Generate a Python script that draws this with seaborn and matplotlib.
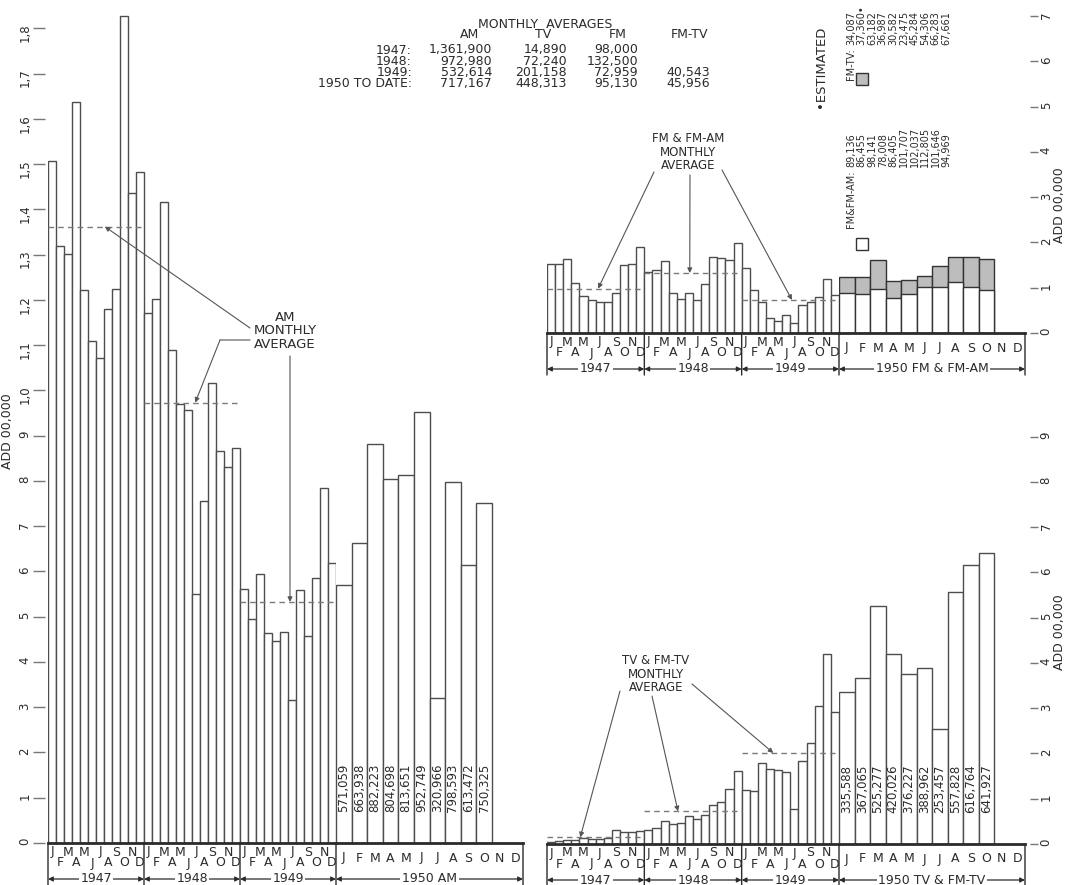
import numpy as np
import pandas as pd
import matplotlib
matplotlib.use("Agg")
import matplotlib.pyplot as plt
from matplotlib.patches import Rectangle
import seaborn as sns

# month letters as printed under the bars
months = ["J", "F", "M", "A", "M", "J", "J", "A", "S", "O", "N", "D"]
years = ["1947", "1948", "1949"]

# AM sets per month (1947-49, 1950 printed in the bars)
am_1947 = [1507000, 1318000, 1301000, 1638000, 1222000, 1110000,
           1072000, 1179000, 1223000, 1827000, 1437000, 1482000]
am_1948 = [1172000, 1203000, 1417000, 1089000, 969000, 957000,
           550000, 756000, 1017000, 866000, 830000, 873000]
am_1949 = [561000, 496000, 595000, 465000, 446000, 467000,
           316000, 559000, 458000, 585000, 785000, 618000]
am_1950 = [571059, 663938, 882223, 804698, 813651, 952749,
           320966, 798593, 613472, 750325]

# TV & FM-TV sets per month
tv_1947 = [5000, 6000, 8000, 9000, 14000, 11000,
           10000, 14000, 31000, 26000, 27000, 28000]
tv_1948 = [30000, 35000, 50000, 45000, 47000, 62000,
           55000, 63000, 87000, 93000, 122000, 161000]
tv_1949 = [119000, 117000, 180000, 165000, 163000, 159000,
           78000, 184000, 223000, 304000, 420000, 292000]
tv_1950 = [335588, 367065, 525277, 420026, 376227, 388962,
           253457, 557828, 616764, 641927]

# FM & FM-AM sets per month
fm_1947 = [152000, 153000, 163000, 111000, 82000, 74000,
           69000, 69000, 88000, 150000, 152000, 189000]
fm_1948 = [134000, 140000, 160000, 88000, 75000, 88000,
           73000, 108000, 167000, 166000, 162000, 199000]
fm_1949 = [144000, 95000, 69000, 34000, 26000, 40000,
           22000, 61000, 69000, 79000, 120000, 85000]
fm_am_1950 = [89136, 86455, 98141, 78008, 86405, 101707,
              102037, 112805, 101646, 94969]
fm_tv_1950 = [34087, 37360, 63182, 36987, 30582, 23475,
              45284, 54306, 66283, 67661]

# monthly averages table
avg_rows = ["1947:", "1948:", "1949:", "1950 TO DATE:"]
avg_am = [1361900, 972980, 532614, 717167]
avg_tv = [14890, 72240, 201158, 448313]
avg_fm = [98000, 132500, 72959, 95130]
avg_fmtv = [None, None, 40543, 45956]

UNIT = 100000
PPU = 45.26          # pixels per 100,000 sets
W, H = 1069, 885
EDGE = "#4d4d4d"
INK = "#2b2b2b"
DASH = "#7a7a7a"
GREY = "#bdbdbd"

sns.set_style("white")
plt.rcParams["font.family"] = ["DejaVu Sans"]
plt.rcParams["text.color"] = INK

fig = plt.figure(figsize=(W / 100, H / 100), dpi=100)


def fx(x):
    return x / W


def fy(y):
    return 1 - y / H


def put(ax, x, y_img, s, **kw):
    # x in data units, y in picture pixels
    ax.annotate(s, xy=(x, H - y_img), xycoords=("data", "figure pixels"),
                ha="center", va="center", annotation_clip=False, **kw)


def vline(ax, x, base, depth=42):
    ax.annotate("", xy=(x, H - base), xytext=(x, H - base - depth),
                xycoords=("data", "figure pixels"), textcoords=("data", "figure pixels"),
                arrowprops=dict(arrowstyle="-", color=INK, lw=1, shrinkA=0, shrinkB=0),
                annotation_clip=False)


def year_span(ax, x0, x1, y_img, text):
    ax.annotate("", xy=(x0, H - y_img), xytext=(x1, H - y_img),
                xycoords=("data", "figure pixels"), textcoords=("data", "figure pixels"),
                arrowprops=dict(arrowstyle="<|-|>", color=INK, lw=0.9, shrinkA=0,
                                shrinkB=0, mutation_scale=7),
                annotation_clip=False)
    put(ax, (x0 + x1) / 2, y_img, text, fontsize=9,
        bbox=dict(facecolor="white", edgecolor="none", pad=1.2))


def panel_axes(x0, x_mid, x1, base, top):
    h = base - top
    a1 = fig.add_axes([fx(x0), fy(base), (x_mid - x0) / W, h / H])
    a2 = fig.add_axes([fx(x_mid), fy(base), (x1 - x_mid) / W, h / H])
    for a in (a1, a2):
        a.set_facecolor("none")
        for s in ("top", "left", "right"):
            a.spines[s].set_color("none")
        a.spines["bottom"].set_linewidth(2)
        a.spines["bottom"].set_color(INK)
    return a1, a2, h / PPU


def finish(ax, n, ymax):
    ax.set_xlim(-0.5, n - 0.5)
    ax.set_ylim(0, ymax)
    ax.set_xlabel("")
    ax.set_ylabel("")
    ax.tick_params(axis="x", bottom=False, labelbottom=False)
    ax.tick_params(axis="y", left=False, labelleft=False)


def early_bars(ax, series, avgs, ymax, base):
    df = pd.DataFrame({"slot": np.arange(36),
                       "sets": np.concatenate(series) / UNIT})
    sns.barplot(data=df, x="slot", y="sets", width=1, color="white",
                edgecolor=EDGE, linewidth=1, errorbar=None, ax=ax)
    for k, avg in enumerate(avgs):
        ax.hlines(avg / UNIT, 12 * k - 0.5, 12 * k + 11.5, colors=DASH,
                  linestyles=(0, (4, 3)), lw=1)
    for i in range(36):
        put(ax, i, base + (9 if i % 2 == 0 else 20), months[i % 12], fontsize=9)
    for k in range(4):
        vline(ax, 12 * k - 0.5, base)
    for k in range(3):
        year_span(ax, 12 * k - 0.5, 12 * k + 11.5, base + 36, years[k])
    finish(ax, 36, ymax)


def late_labels(ax, base, span_text):
    for i in range(12):
        put(ax, i, base + 15, months[i], fontsize=9)
    vline(ax, 11.5, base)
    year_span(ax, -0.5, 11.5, base + 36, span_text)


def late_bars(ax, values, ymax, base, span_text):
    df = pd.DataFrame({"month": np.arange(len(values)),
                       "sets": np.array(values) / UNIT})
    sns.barplot(data=df, x="month", y="sets", order=list(range(12)), width=1,
                color="white", edgecolor=EDGE, linewidth=1, errorbar=None, ax=ax)
    for i, v in enumerate(values):
        ax.text(i, 0.69, f"{v:,}", rotation=90, ha="center", va="bottom",
                fontsize=8.5, color=INK)
    late_labels(ax, base, span_text)
    finish(ax, 12, ymax)


def right_ticks(ax, n):
    ax.yaxis.tick_right()
    ax.spines["right"].set_position(("outward", 3.6))
    ax.set_yticks(range(n + 1))
    ax.set_yticklabels([str(k) for k in range(n + 1)])
    ax.tick_params(axis="y", right=True, labelright=True, left=False, labelleft=False,
                   length=5.5, width=1, color="#777", pad=1.5, labelsize=8.5,
                   labelrotation=90, labelcolor=INK)


def avg_arrow(ax, tail, tip_x, avg):
    ax.annotate("", xy=(tip_x, avg / UNIT), xycoords="data",
                xytext=(tail[0], H - tail[1]), textcoords="figure pixels",
                arrowprops=dict(arrowstyle="-|>", color="#555", lw=0.8,
                                mutation_scale=7, shrinkA=0, shrinkB=0),
                annotation_clip=False)


# ---------------- AM panel ----------------
am1, am2, am_max = panel_axes(48, 336, 523, 843, 0)
early_bars(am1, [am_1947, am_1948, am_1949], avg_am[:3], am_max, 843)
late_bars(am2, am_1950, am_max, 843, "1950 AM")

am1.spines["left"].set_position(("outward", 2))
am1.set_yticks(range(19))
am1.set_yticklabels([str(k) for k in range(10)] + [f"1,{k}" for k in range(9)])
am1.tick_params(axis="y", left=True, labelleft=True, length=8.6, width=1,
                color="#777", pad=1.5, labelsize=8.5, labelrotation=90, labelcolor=INK)
fig.text(fx(8), fy(431), "ADD 00,000", rotation=90, ha="center", va="center",
         fontsize=9)

fig.text(fx(285), fy(331), "AM\nMONTHLY\nAVERAGE", ha="center", va="center",
         fontsize=9.5, linespacing=1.05)
avg_arrow(am1, (250, 328), 6.6, avg_am[0])
am1.annotate("", xy=(220, H - 340), xycoords="figure pixels",
             xytext=(250, H - 340), textcoords="figure pixels",
             arrowprops=dict(arrowstyle="-", color="#555", lw=0.8, shrinkA=0, shrinkB=0))
avg_arrow(am1, (220, 340), 17.9, avg_am[1])
avg_arrow(am1, (290, 356), 29.75, avg_am[2])

# ---------------- FM panel ----------------
fm1, fm2, fm_max = panel_axes(547, 839, 1025, 333, 0)
early_bars(fm1, [fm_1947, fm_1948, fm_1949], avg_fm[:3], fm_max, 333)

fm_total = (np.array(fm_am_1950) + np.array(fm_tv_1950)) / UNIT
sns.barplot(x=np.arange(10), y=fm_total, order=list(range(12)), width=1,
            color=GREY, saturation=1, edgecolor="#333", linewidth=1,
            errorbar=None, ax=fm2)
sns.barplot(x=np.arange(10), y=np.array(fm_am_1950) / UNIT, order=list(range(12)),
            width=1, color="white", saturation=1, edgecolor="#333", linewidth=1,
            errorbar=None, ax=fm2)
late_labels(fm2, 333, "1950 FM & FM-AM")
finish(fm2, 12, fm_max)
right_ticks(fm2, 7)
fig.text(fx(1060), fy(205), "ADD 00,000", rotation=90, ha="center", va="center",
         fontsize=9)

fig.text(fx(688), fy(152), "FM & FM-AM\nMONTHLY\nAVERAGE", ha="center",
         va="center", fontsize=8.5, linespacing=1.05)
avg_arrow(fm1, (654, 172), 5.8, avg_fm[0])
avg_arrow(fm1, (690, 175), 17.1, avg_fm[1])
avg_arrow(fm1, (722, 170), 29.7, avg_fm[2])

# legend columns for 1950 FM
col_x = [851 + 10.6 * i for i in range(10)]
fig.text(fx(col_x[0]), fy(48), "FM-TV:", rotation=90, ha="center", va="top",
         fontsize=7)
fig.text(fx(col_x[0]), fy(170), "FM&FM-AM:", rotation=90, ha="center", va="top",
         fontsize=7)
for i in range(10):
    tv_txt = f"{fm_tv_1950[i]:,}" + ("•" if i == 1 else "")
    fig.text(fx(col_x[i]), fy(45), tv_txt, rotation=90, ha="center", va="bottom",
             fontsize=7)
    fig.text(fx(col_x[i]), fy(167), f"{fm_am_1950[i]:,}", rotation=90, ha="center",
             va="bottom", fontsize=7)
fig.add_artist(Rectangle((fx(856), fy(85)), 12 / W, 12 / H, transform=fig.transFigure,
                         facecolor=GREY, edgecolor="#333", lw=1))
fig.add_artist(Rectangle((fx(856), fy(250)), 12 / W, 12 / H, transform=fig.transFigure,
                         facecolor="white", edgecolor="#333", lw=1))
fig.text(fx(820), fy(67), "•ESTIMATED", rotation=90, ha="center", va="center",
         fontsize=9.5)

# ---------------- TV panel ----------------
tv1, tv2, tv_max = panel_axes(547, 839, 1025, 844, 420)
early_bars(tv1, [tv_1947, tv_1948, tv_1949], avg_tv[:3], tv_max, 844)
late_bars(tv2, tv_1950, tv_max, 844, "1950 TV & FM-TV")
right_ticks(tv2, 9)
fig.text(fx(1060), fy(632), "ADD 00,000", rotation=90, ha="center", va="center",
         fontsize=9)

fig.text(fx(656), fy(674), "TV & FM-TV\nMONTHLY\nAVERAGE", ha="center",
         va="center", fontsize=8.5, linespacing=1.05)
avg_arrow(tv1, (620, 691), 3.6, avg_tv[0])
avg_arrow(tv1, (652, 696), 15.65, avg_tv[1])
avg_arrow(tv1, (692, 684), 27.4, avg_tv[2])

# ---------------- monthly averages table ----------------
fig.text(fx(545), fy(24), "MONTHLY  AVERAGES", ha="center", va="center", fontsize=9)
for x, head in zip([470, 543, 618, 690], ["AM", "TV", "FM", "FM-TV"]):
    fig.text(fx(x), fy(35), head, ha="center", va="center", fontsize=9)
for r, row in enumerate(avg_rows):
    y = fy(50 + 11.3 * r)
    fig.text(fx(412), y, row, ha="right", va="center", fontsize=9)
    for x, col in zip([492, 567, 638, 710], [avg_am, avg_tv, avg_fm, avg_fmtv]):
        if col[r] is not None:
            fig.text(fx(x), y, f"{col[r]:,}", ha="right", va="center", fontsize=9)

fig.savefig("out.png", dpi=100, facecolor="white")
